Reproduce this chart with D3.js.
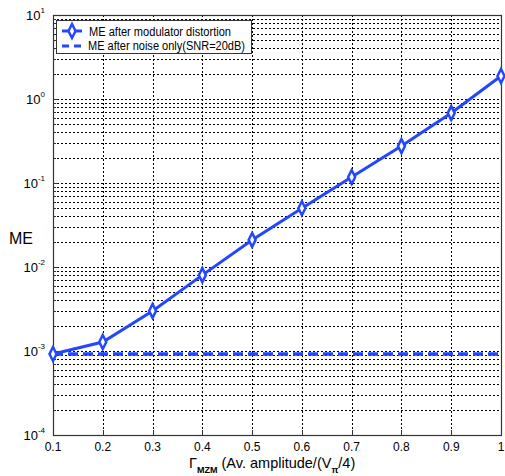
<!DOCTYPE html>
<html>
<head>
<meta charset="utf-8">
<script src="https://cdn.jsdelivr.net/npm/d3@7"></script>
<style>
  body { margin: 0; background: #fff; }
  svg { font-family: "Liberation Sans", Arial, sans-serif; }
</style>
</head>
<body>
<script>
// data
var gamma = [0.1, 0.2, 0.3, 0.4, 0.5, 0.6, 0.7, 0.8, 0.9, 1.0];
var meDistortion = [0.00092, 0.00128, 0.0030, 0.0080, 0.021, 0.050, 0.118, 0.275, 0.68, 1.88];
var meNoise = 0.00092;
var xTicks = [0.1, 0.2, 0.3, 0.4, 0.5, 0.6, 0.7, 0.8, 0.9, 1];
var yExponents = [1, 0, -1, -2, -3, -4];
var legendLabels = ["ME after modulator distortion", "ME after noise only(SNR=20dB)"];

var width = 505, height = 476;
var pLeft = 53, pRight = 501, pTop = 15, pBottom = 435;
var blue = "#2346ff";

var svg = d3.select("body").append("svg")
    .attr("width", width)
    .attr("height", height);

var x = d3.scaleLinear().domain([0.1, 1]).range([pLeft, pRight]);
var y = d3.scaleLog().domain([1e-4, 10]).range([pBottom, pTop]);

// grid
var grid = svg.append("g").attr("class", "grid")
    .attr("stroke", "#000").attr("stroke-width", 1).attr("stroke-dasharray", "2,2");

var minorY = [];
for (var e = -4; e < 1; e++) {
    for (var m = 1; m <= 9; m++) {
        minorY.push(m * Math.pow(10, e));
    }
}
grid.selectAll(".gy").data(minorY.slice(1)).enter().append("line")
    .attr("x1", pLeft).attr("x2", pRight)
    .attr("y1", function(d){ return Math.round(y(d)) + 0.5; })
    .attr("y2", function(d){ return Math.round(y(d)) + 0.5; });

grid.selectAll(".gx").data(xTicks.slice(1, -1)).enter().append("line")
    .attr("y1", pTop).attr("y2", pBottom)
    .attr("x1", function(d){ return Math.round(x(d)) + 0.5; })
    .attr("x2", function(d){ return Math.round(x(d)) + 0.5; });

// frame
svg.append("rect")
    .attr("x", pLeft + 0.5).attr("y", pTop + 0.5)
    .attr("width", pRight - pLeft).attr("height", pBottom - pTop)
    .attr("fill", "none").attr("stroke", "#333").attr("stroke-width", 1.2);

// ticks inside the frame
var ticks = svg.append("g").attr("stroke", "#333").attr("stroke-width", 1);
ticks.selectAll(".ty").data(minorY).enter().append("line")
    .attr("x1", pLeft).attr("x2", function(d){ return Math.abs(Math.log10(d) % 1) < 1e-9 ? pLeft + 5 : pLeft + 3; })
    .attr("y1", function(d){ return Math.round(y(d)) + 0.5; })
    .attr("y2", function(d){ return Math.round(y(d)) + 0.5; });
ticks.selectAll(".tx").data(xTicks).enter().append("line")
    .attr("y1", pBottom).attr("y2", pBottom - 5)
    .attr("x1", function(d){ return Math.round(x(d)) + 0.5; })
    .attr("x2", function(d){ return Math.round(x(d)) + 0.5; });

// x tick labels
svg.append("g").selectAll("text").data(xTicks).enter().append("text")
    .attr("x", function(d){ return x(d); })
    .attr("y", 451)
    .attr("text-anchor", "middle")
    .attr("font-size", 12)
    .text(function(d){ return d === 1 ? "1" : d3.format(".1f")(d); });

// y tick labels, 10^n
var yl = svg.append("g").selectAll("text").data(yExponents).enter().append("text")
    .attr("x", 45)
    .attr("y", function(d){ return y(Math.pow(10, d)) + 5; })
    .attr("text-anchor", "end")
    .attr("font-size", 13);
yl.append("tspan").text("10");
yl.append("tspan").attr("dy", -7).attr("font-size", 8).text(function(d){ return d; });

// axis labels
svg.append("text")
    .attr("x", 9).attr("y", 244)
    .attr("font-size", 16)
    .text("ME");

var xl = svg.append("text")
    .attr("x", 189).attr("y", 468)
    .attr("font-size", 14.5);
xl.append("tspan").text("Γ");
xl.append("tspan").attr("dy", 5).attr("font-size", 9).attr("font-weight", "bold").text("MZM");
xl.append("tspan").attr("dy", -5).text(" (Av. amplitude/(V");
xl.append("tspan").attr("dy", 5).attr("font-size", 9).attr("font-weight", "bold").text("π");
xl.append("tspan").attr("dy", -5).text("/4)");

// noise-only reference line
svg.append("line")
    .attr("x1", x(0.1)).attr("x2", x(1))
    .attr("y1", y(meNoise)).attr("y2", y(meNoise))
    .attr("stroke", blue).attr("stroke-width", 3.5)
    .attr("stroke-dasharray", "10,5");

// distortion curve
var line = d3.line()
    .x(function(d, i){ return x(gamma[i]); })
    .y(function(d){ return y(d); });

svg.append("path")
    .datum(meDistortion)
    .attr("d", line)
    .attr("fill", "none")
    .attr("stroke", blue)
    .attr("stroke-width", 3);

function diamond(cx, cy) {
    return "M" + cx + "," + (cy - 7) + "L" + (cx + 3.5) + "," + cy + "L" + cx + "," + (cy + 7) + "L" + (cx - 3.5) + "," + cy + "Z";
}
svg.append("g").selectAll("path").data(meDistortion).enter().append("path")
    .attr("d", function(d, i){ return diamond(x(gamma[i]), y(d)); })
    .attr("fill", "#fff")
    .attr("stroke", blue)
    .attr("stroke-width", 2.5);

// legend
var lg = svg.append("g");
lg.append("rect")
    .attr("x", 56.5).attr("y", 20.5).attr("width", 195).attr("height", 33)
    .attr("fill", "#fff").attr("stroke", "#333").attr("stroke-width", 1);
lg.append("line").attr("x1", 62).attr("x2", 82).attr("y1", 31).attr("y2", 31)
    .attr("stroke", blue).attr("stroke-width", 3);
lg.append("path").attr("d", diamond(72, 31))
    .attr("fill", "#fff").attr("stroke", blue).attr("stroke-width", 2.5);
lg.append("line").attr("x1", 62).attr("x2", 82).attr("y1", 46).attr("y2", 46)
    .attr("stroke", blue).attr("stroke-width", 3).attr("stroke-dasharray", "7,5");
lg.selectAll("text").data(legendLabels).enter().append("text")
    .attr("x", function(d, i){ return i === 0 ? 89 : 88; })
    .attr("y", function(d, i){ return 35.5 + i * 14; })
    .attr("font-size", 12.3)
    .attr("textLength", function(d, i){ return i === 0 ? 142 : 157; })
    .attr("lengthAdjust", "spacingAndGlyphs")
    .text(function(d){ return d; });
</script>
</body>
</html>
